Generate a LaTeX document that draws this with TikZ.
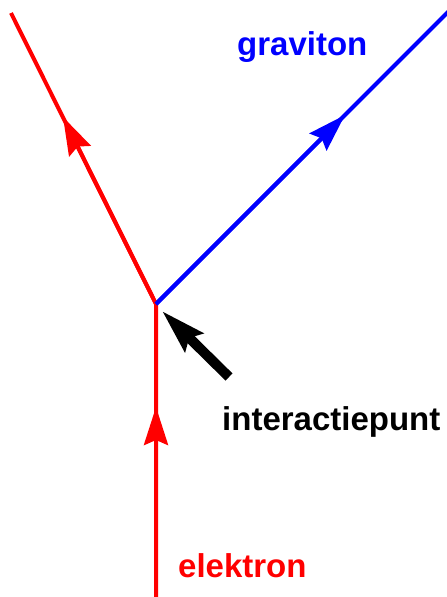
\documentclass[tikz,border=0pt]{standalone}
\usepackage{fontspec}
\setmainfont{Liberation Sans}
\usetikzlibrary{arrows.meta}
\tikzset{
  elec/.style={draw=red, line width=4pt},
  grav/.style={draw=blue, line width=4pt},
  headred/.style={-{Stealth[length=38pt,width=24pt,inset=5pt,fill=red]}},
  headblue/.style={-{Stealth[length=38pt,width=24pt,inset=5pt,fill=blue]}},
  pointer/.style={draw=black, line width=10pt, -{Stealth[length=44pt,width=25pt,inset=6pt]}},
  lbl/.style={anchor=base west, inner sep=0pt, font=\bfseries\fontsize{33pt}{36pt}\selectfont}
}
\begin{document}
\begin{tikzpicture}[x=1pt,y=-1pt]
\useasboundingbox (0,0) rectangle (447,597);
\coordinate (v) at (156,304);
\coordinate (bot) at (156,600);
\coordinate (tl) at (11,13);
\coordinate (tr) at (449,11);
\coordinate (t1) at (156,407);
\coordinate (t2) at (63,117);
\coordinate (t3) at (345,115);
\coordinate (pstart) at (229,377);
\coordinate (ptip) at (162,311);
\draw[elec] (bot) -- (v) -- (tl);
\draw[grav] (v) -- (tr);
\draw[elec, headred] (bot) -- (t1);
\draw[elec, headred] (v) -- (t2);
\draw[grav, headblue] (v) -- (t3);
\draw[pointer] (pstart) -- (ptip);
\node[lbl, text=blue] (grav) at (237,55) {graviton};
\node[lbl, text=black] (inter) at (222,430) {interactiepunt};
\node[lbl, text=red] (elek) at (178,577) {elektron};
\end{tikzpicture}
\end{document}
